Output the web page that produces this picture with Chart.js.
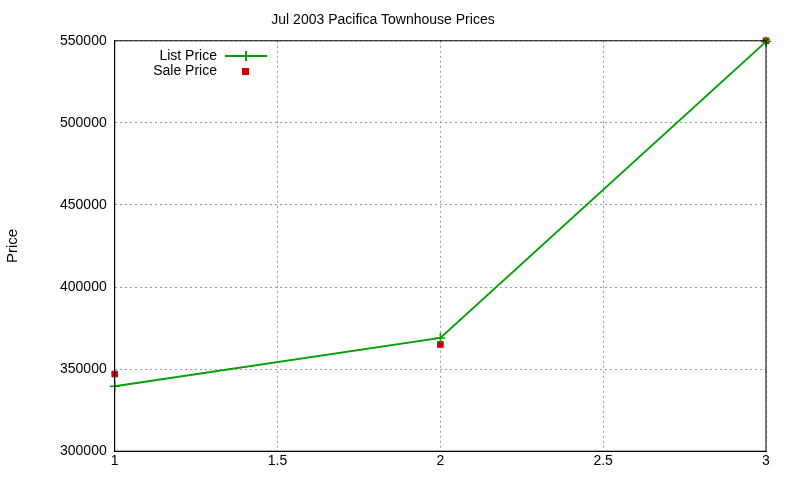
<!DOCTYPE html>
<html>
<head>
<script src="https://cdn.jsdelivr.net/npm/chart.js@4"></script>
<style>
  body { margin: 0; background: #fff; }
  #wrap { width: 800px; height: 480px; }
</style>
</head>
<body>
<div id="wrap"><canvas id="chart" width="800" height="480"></canvas></div>
<script>
const xValues = [1, 2, 3];
const listPrice = [339500, 369000, 549500];
const salePrice = [347000, 365000, 550000];

// draw the gnuplot style legend inside the plot, top left
const keyPlugin = {
    id: 'key',
    afterDraw(chart) {
        const ctx = chart.ctx;
        ctx.save();
        ctx.font = '14px "Liberation Sans", Arial, sans-serif';
        ctx.fillStyle = '#000';
        ctx.textAlign = 'right';
        ctx.textBaseline = 'middle';
        ctx.fillText('List Price', 217, 56);
        ctx.fillText('Sale Price', 217, 71);
        ctx.strokeStyle = '#00a000';
        ctx.lineWidth = 2;
        ctx.beginPath();
        ctx.moveTo(225, 56); ctx.lineTo(267, 56);
        ctx.moveTo(246, 51); ctx.lineTo(246, 61);
        ctx.stroke();
        ctx.fillStyle = '#cc0000';
        ctx.fillRect(242, 68, 7, 7);
        ctx.restore();
    }
};

new Chart(document.getElementById('chart'), {
    type: 'scatter',
    data: {
        datasets: [{
            label: 'List Price',
            data: xValues.map((x, i) => ({ x: x, y: listPrice[i] })),
            showLine: true,
            clip: false,
            borderColor: '#00a000',
            borderWidth: 2,
            pointStyle: 'cross',
            pointRadius: 5,
            pointBorderColor: '#00a000',
            pointBorderWidth: 1.5
        }, {
            label: 'Sale Price',
            data: xValues.map((x, i) => ({ x: x, y: salePrice[i] })),
            showLine: false,
            clip: false,
            pointStyle: 'rect',
            pointRadius: 4,
            backgroundColor: '#cc0000',
            borderColor: '#cc0000'
        }]
    },
    options: {
        responsive: false,
        animation: false,
        layout: { padding: { top: 4, right: 34, bottom: 8, left: 0 } },
        plugins: {
            legend: { display: false },
            tooltip: { enabled: false },
            title: {
                display: true,
                text: 'Jul 2003 Pacifica Townhouse Prices',
                color: '#000',
                font: { family: '"Liberation Sans", Arial, sans-serif', size: 14, weight: 'normal' },
                padding: { top: 8, bottom: 12 }
            }
        },
        scales: {
            x: {
                type: 'linear',
                min: 1, max: 3,
                ticks: { stepSize: 0.5, padding: 2, color: '#000', font: { family: '"Liberation Sans", Arial', size: 14 },
                         callback: v => String(v) },
                grid: { color: '#999', tickLength: 0, lineWidth: 1 },
                border: { color: '#000', dash: [2, 3] }
            },
            y: {
                min: 300000, max: 550000,
                ticks: { stepSize: 50000, color: '#000', font: { family: '"Liberation Sans", Arial', size: 14 }, padding: 8,
                         callback: v => String(v) },
                grid: { color: '#999', tickLength: 0 },
                border: { color: '#000', dash: [2, 3] },
                title: { display: true, text: 'Price', color: '#000', font: { family: '"Liberation Sans", Arial', size: 15 }, padding: { bottom: 30 } }
            }
        }
    },
    plugins: [keyPlugin, {
        id: 'frame',
        afterDraw(chart) {
            const a = chart.chartArea, ctx = chart.ctx;
            ctx.save();
            ctx.strokeStyle = '#000';
            ctx.lineWidth = 1;
            ctx.strokeRect(a.left, a.top, a.right - a.left, a.bottom - a.top);
            ctx.restore();
        }
    }]
});
</script>
</body>
</html>
